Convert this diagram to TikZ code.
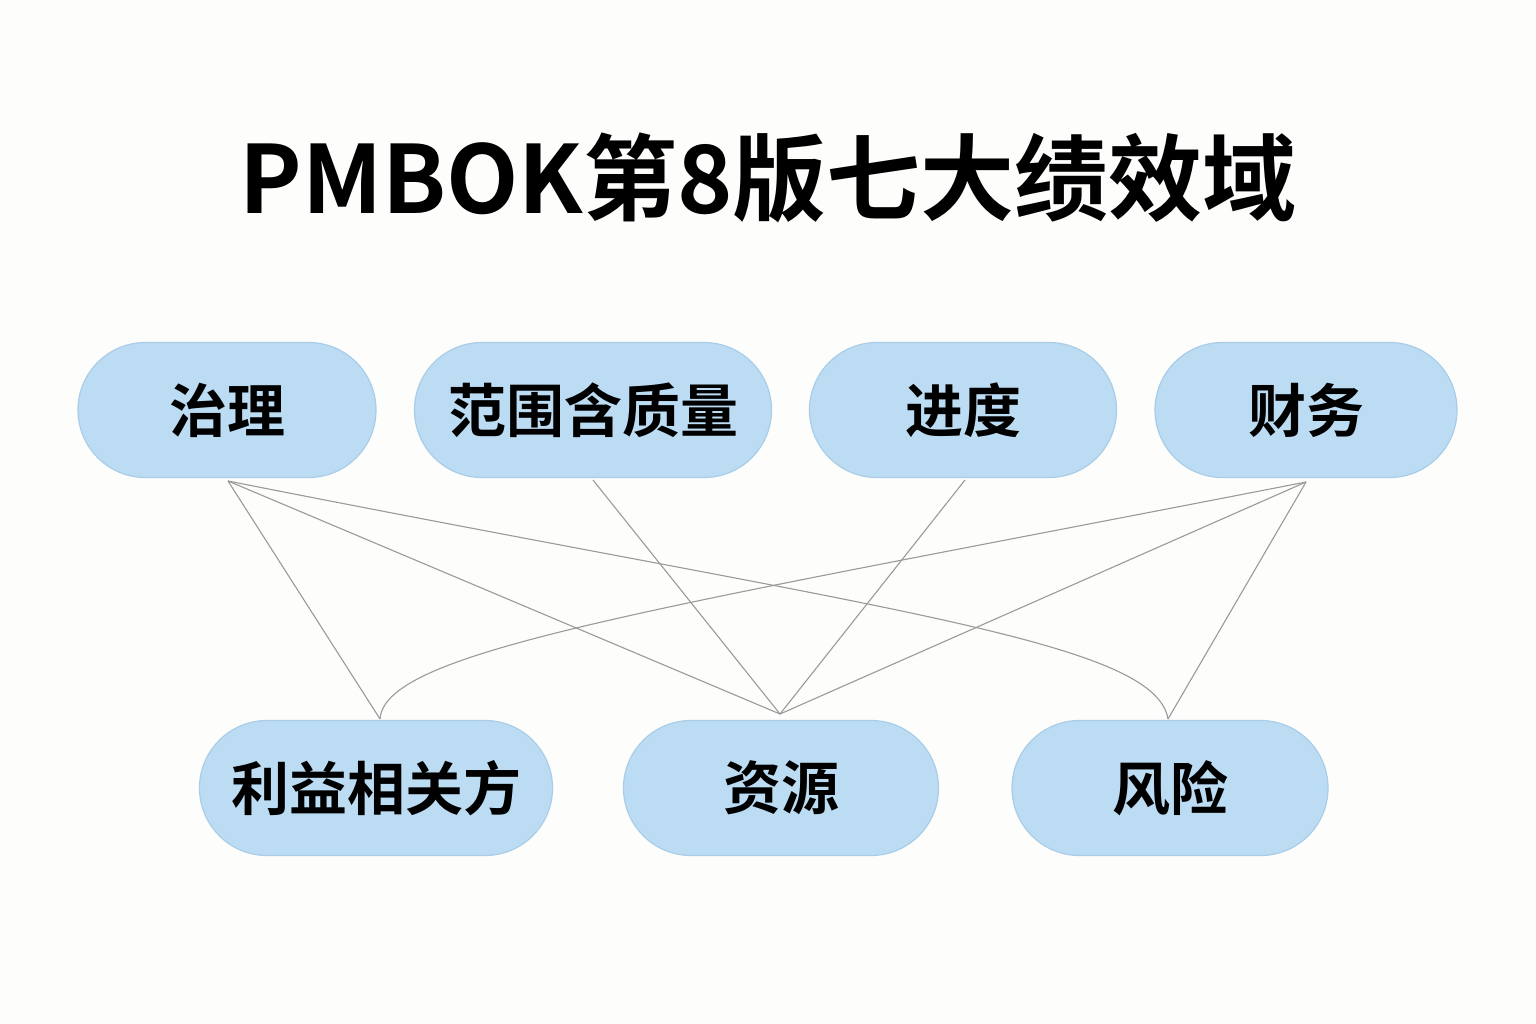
\documentclass[tikz,border=0pt]{standalone}
\usepackage{fontspec}
\setmainfont{Noto Sans CJK SC}[BoldFont={Noto Sans CJK SC Bold}]
\begin{document}
\begin{tikzpicture}[x=1pt,y=-1pt,
  pill/.style={rounded rectangle,minimum height=135pt,inner sep=0pt,
    fill=pillblue,draw=pilledge,line width=1.2pt,
    font=\bfseries\fontsize{58}{68}\selectfont,text=black},
  link/.style={draw=linkgray,line width=1.1pt}]
\usetikzlibrary{shapes.misc}
\definecolor{pillblue}{HTML}{BCDCF3}
\definecolor{pilledge}{HTML}{A9CDE9}
\definecolor{linkgray}{HTML}{9A9A9A}
\definecolor{bg}{HTML}{FDFDFB}
\fill[bg] (0,0) rectangle (1536,1024);
\useasboundingbox (0,0) rectangle (1536,1024);
\node[font=\bfseries\fontsize{94}{110}\selectfont] (title) at (768,178) {PMBOK第8版七大绩效域};
\node[pill,minimum width=298pt] (gov) at (227,410) {治理};
\node[pill,minimum width=357pt] (scope) at (593,410) {范围含质量};
\node[pill,minimum width=307pt] (sched) at (963,410) {进度};
\node[pill,minimum width=302pt] (fin) at (1306,410) {财务};
\node[pill,minimum width=353pt] (stake) at (376,788) {利益相关方};
\node[pill,minimum width=315pt] (res) at (781,788) {资源};
\node[pill,minimum width=316pt] (risk) at (1170,788) {风险};
\coordinate (g) at (228,481);
\coordinate (s) at (593,480);
\coordinate (p) at (965,480);
\coordinate (f) at (1306,482);
\coordinate (st) at (380,719);
\coordinate (r) at (780,714);
\coordinate (k) at (1168,719);
\path[link] (g) -- (st);
\path[link] (g) -- (r);
\path[link] (g) .. controls (880,610) and (1155,640) .. (k);
\path[link] (s) -- (r);
\path[link] (p) -- (r);
\path[link] (f) .. controls (650,610) and (385,650) .. (st);
\path[link] (f) -- (r);
\path[link] (f) -- (k);
\end{tikzpicture}
\end{document}
